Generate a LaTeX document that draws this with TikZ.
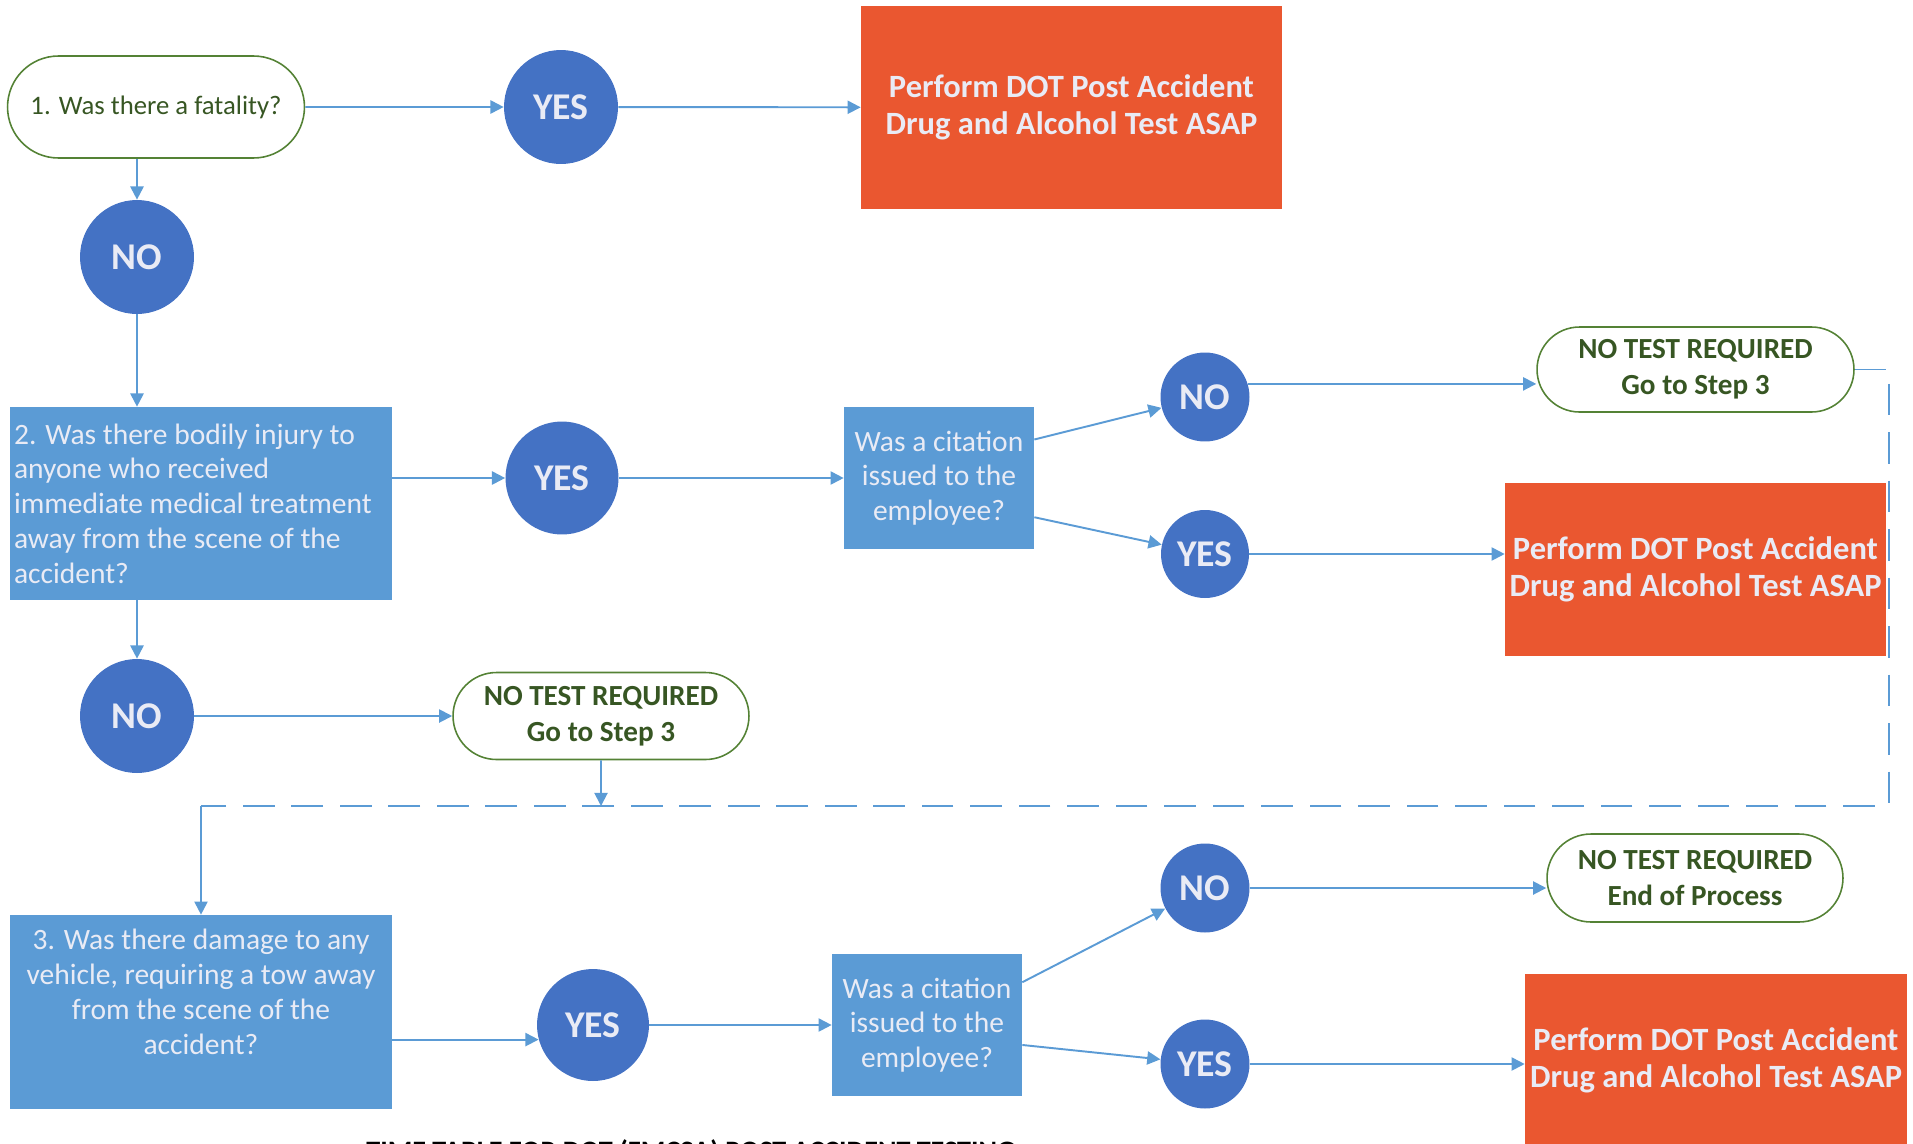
\documentclass[tikz,border=0pt]{standalone}
\usepackage{fontspec}
\setmainfont{Carlito}
\usetikzlibrary{shapes.misc,arrows.meta,calc}
\definecolor{circblue}{HTML}{4472C4}
\definecolor{boxblue}{HTML}{5B9BD5}
\definecolor{testred}{HTML}{EA5730}
\definecolor{termgreen}{HTML}{548235}
\definecolor{termtext}{HTML}{375623}
\definecolor{lighttext}{HTML}{E9EBF5}
\tikzset{
  answer/.style={circle,fill=circblue,text=lighttext,inner sep=0pt,font=\fontsize{21.5}{25}\selectfont\bfseries},
  qbox/.style={rectangle,fill=boxblue,text=lighttext,inner sep=0pt,font=\fontsize{16.8}{19.8}\selectfont},
  testbox/.style={rectangle,fill=testred,text=lighttext,align=center,inner sep=0pt,font=\fontsize{18.5}{21}\selectfont\bfseries},
  term/.style={rounded rectangle,draw=termgreen,line width=0.9pt,text=termtext,align=center,inner sep=0pt,font=\fontsize{16.6}{20.4}\selectfont\bfseries},
  link/.style={draw=boxblue,line width=1.1pt,-{Triangle[length=7.5pt,width=7.5pt]}},
  dashline/.style={draw=boxblue,line width=1.1pt,dash pattern=on 18pt off 9.6pt}
}

\begin{document}
\begin{tikzpicture}[x=0.02cm,y=-0.02cm]
	\useasboundingbox (0,0) rectangle (1913,1143);
	% step 1
	\node[term,minimum width=5.94cm,minimum height=2.04cm,font=\fontsize{15.2}{18}\selectfont] (start) at (156,107) {1. Was there a fatality?};
	\node[answer,minimum size=2.28cm] (yes1) at (561,107) {YES};
	\node[testbox,minimum width=8.42cm,minimum height=4.06cm] (dot1) at (1071.5,107.5) {Perform DOT Post Accident\\Drug and Alcohol Test ASAP};
	\node[answer,minimum size=2.28cm] (no1) at (137,257) {NO};
	% step 2
	\node[qbox,minimum width=7.64cm,minimum height=3.86cm,text width=7.48cm,inner xsep=0.08cm,align=flush left] (q2) at (201,503.5) {2. Was there bodily injury to\\anyone who received\\immediate medical treatment\\away from the scene of the\\accident?};
	\node[answer,minimum size=2.26cm] (yes2) at (562,478) {YES};
	\node[qbox,minimum width=3.8cm,minimum height=2.84cm,align=center] (cit1) at (939,478) {Was a citation\\issued to the\\employee?};
	\node[answer,minimum size=1.78cm] (no3) at (1205,397) {NO};
	\node[answer,minimum size=1.76cm] (yes3) at (1205,554) {YES};
	\node[term,minimum width=6.34cm,minimum height=1.7cm] (nt2) at (1695.5,369.5) {NO TEST REQUIRED\\Go to Step 3};
	\node[testbox,minimum width=7.62cm,minimum height=3.46cm] (dot2) at (1695.5,569.5) {Perform DOT Post Accident\\Drug and Alcohol Test ASAP};
	\node[answer,minimum size=2.28cm] (no2) at (137,716) {NO};
	\node[term,minimum width=5.92cm,minimum height=1.74cm] (nt1) at (601,716) {NO TEST REQUIRED\\Go to Step 3};
	% step 3
	\node[qbox,minimum width=7.64cm,minimum height=3.88cm] (q3) at (201,1012) {};
	\node[qbox,fill=none,align=center] (q3text) at (201,992) {3. Was there damage to any\\vehicle, requiring a tow away\\from the scene of the\\accident?};
	\node[answer,minimum size=2.24cm] (yes4) at (593,1025) {YES};
	\node[qbox,minimum width=3.8cm,minimum height=2.84cm,align=center] (cit2) at (927,1025) {Was a citation\\issued to the\\employee?};
	\node[answer,minimum size=1.78cm] (no5) at (1205,888) {NO};
	\node[answer,minimum size=1.78cm] (yes5) at (1205,1064) {YES};
	\node[term,minimum width=5.92cm,minimum height=1.76cm] (nt3) at (1695,878) {NO TEST REQUIRED\\End of Process};
	\node[testbox,minimum width=7.64cm,minimum height=3.46cm] (dot3) at (1716,1060.5) {Perform DOT Post Accident\\Drug and Alcohol Test ASAP};
	\node[anchor=north west,inner sep=0pt,font=\fontsize{16}{19}\selectfont\bfseries] (title) at (366,1139) {TIME TABLE FOR DOT (FMCSA) POST ACCIDENT TESTING};
	% connectors
	\coordinate (rc) at (1889,806);
	\coordinate (lc) at (201,806);
	\draw[link] (start) -- (yes1);
	\draw[link] (yes1) -- (dot1);
	\draw[link] (start.south -| no1) -- (no1);
	\draw[link] (no1) -- (no1 |- q2.north);
	\draw[link] (q2.east |- yes2) -- (yes2);
	\draw[link] (q2.south -| no2) -- (no2);
	\draw[link] (yes2) -- (cit1);
	\draw[link] ($(cit1.north east)!0.23!(cit1.south east)$) -- (no3);
	\draw[link] ($(cit1.north east)!0.775!(cit1.south east)$) -- (yes3);
	\draw[link] (no3.17) -- (no3.17 -| nt2.west);
	\draw[link] (yes3) -- (yes3 -| dot2.west);
	\draw[link] (no2) -- (nt1);
	\draw[link] (nt1) -- (nt1 |- lc);
	\draw[dashline] (nt2.east) -- (nt2.east -| rc) -- (rc) -- (lc);
	\draw[link] (lc) -- (q3.north);
	\draw[link] (q3.east |- yes4.195) -- (yes4.195);
	\draw[link] (yes4) -- (cit2);
	\draw[link] ($(cit2.north east)!0.2!(cit2.south east)$) -- (no5);
	\draw[link] ($(cit2.north east)!0.64!(cit2.south east)$) -- (yes5);
	\draw[link] (no5) -- (no5 -| nt3.west);
	\draw[link] (yes5) -- (yes5 -| dot3.west);
\end{tikzpicture}
\end{document}
